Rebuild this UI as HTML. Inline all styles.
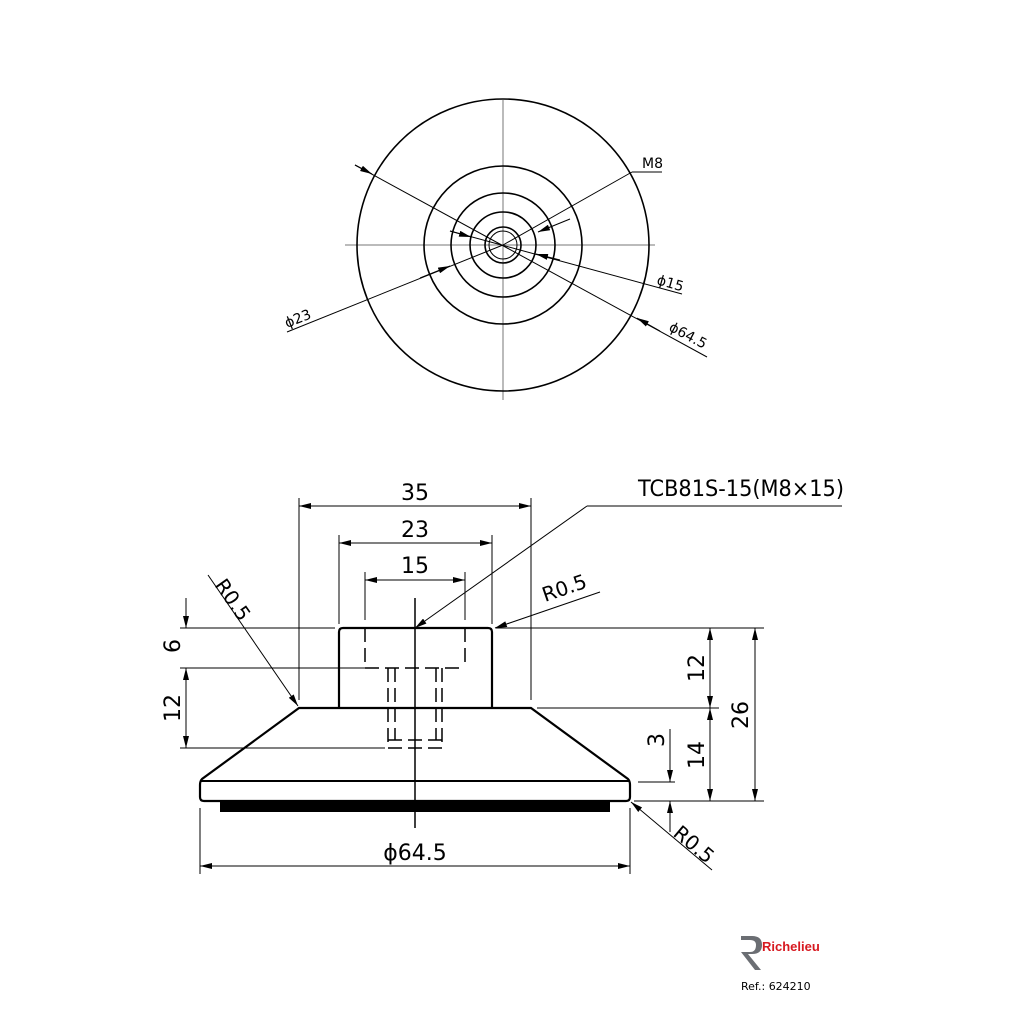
<!DOCTYPE html>
<html><head><meta charset="utf-8"><style>
html,body{margin:0;padding:0;background:#fff;}
svg{display:block;}
text{font-family:"DejaVu Sans","Liberation Sans",sans-serif;fill:#000;font-weight:normal;}
</style></head><body>
<svg width="1024" height="1024" viewBox="0 0 1024 1024" xmlns="http://www.w3.org/2000/svg">
<defs>
<marker id="a" viewBox="0 0 12 6" refX="12" refY="3" markerWidth="12" markerHeight="6" orient="auto-start-reverse" markerUnits="userSpaceOnUse"><path d="M0,0 L12,3 L0,6 z" fill="#000"/></marker>
</defs>
<g fill="none" stroke="#000">
<line x1="345" y1="245" x2="655" y2="245" stroke="#777" stroke-width="1"/>
<line x1="503" y1="100" x2="503" y2="400" stroke="#777" stroke-width="1"/>
<circle cx="503" cy="245" r="146" stroke-width="1.6"/>
<circle cx="503" cy="245" r="79" stroke-width="1.6"/>
<circle cx="503" cy="245" r="52" stroke-width="1.6"/>
<circle cx="503" cy="245" r="33" stroke-width="1.6"/>
<circle cx="503" cy="245" r="18" stroke-width="1.6"/>
<circle cx="503" cy="245" r="14" stroke-width="1"/>
<line x1="355" y1="165" x2="707" y2="357" stroke-width="1"/>
<line x1="355" y1="165" x2="372" y2="174" marker-end="url(#a)" stroke-width="1"/>
<line x1="660" y1="331" x2="637" y2="318" marker-end="url(#a)" stroke-width="1"/>
<line x1="287" y1="332" x2="503" y2="245" stroke-width="1"/>
<line x1="420" y1="278" x2="450" y2="266" marker-end="url(#a)" stroke-width="1"/>
<line x1="450" y1="231" x2="682" y2="294" stroke-width="1"/>
<line x1="450" y1="231" x2="471" y2="237" marker-end="url(#a)" stroke-width="1"/>
<line x1="560" y1="260" x2="536" y2="254" marker-end="url(#a)" stroke-width="1"/>
<line x1="632" y1="172" x2="503" y2="245" stroke-width="1"/>
<line x1="662" y1="172" x2="632" y2="172" stroke-width="1"/>
<line x1="570" y1="219" x2="538" y2="232" marker-end="url(#a)" stroke-width="1"/>

<path d="M339,708 V632 Q339,628 343,628 H488 Q492,628 492,632 V708" stroke-width="2.2"/>
<path d="M299,708 H531 L628,779 Q630,781 630,785 V797 Q630,801 626,801 H204 Q200,801 200,797 V785 Q200,781 202,779 L299,708 Z" stroke-width="2.2"/>
<line x1="200" y1="781" x2="630" y2="781" stroke-width="2"/>
<rect x="220" y="802" width="390" height="10" fill="#000" stroke="none"/>
<line x1="415" y1="598" x2="415" y2="828" stroke-width="1.5"/>
<g stroke-dasharray="14,6" stroke-width="1.5">
<line x1="365" y1="628" x2="365" y2="668"/>
<line x1="465" y1="628" x2="465" y2="668"/>
<line x1="365" y1="668" x2="465" y2="668"/>
<path d="M388,668 V748 H442 V668"/>
<path d="M395,668 V740 M436,668 V740 M388,740 H442"/>
</g>
<g stroke-width="1">
<line x1="299" y1="498" x2="299" y2="700"/>
<line x1="531" y1="498" x2="531" y2="700"/>
<line x1="415" y1="506" x2="299" y2="506" marker-end="url(#a)"/>
<line x1="415" y1="506" x2="531" y2="506" marker-end="url(#a)"/>
<line x1="339" y1="535" x2="339" y2="624"/>
<line x1="492" y1="535" x2="492" y2="624"/>
<line x1="415" y1="543" x2="339" y2="543" marker-end="url(#a)"/>
<line x1="415" y1="543" x2="492" y2="543" marker-end="url(#a)"/>
<line x1="365" y1="572" x2="365" y2="620"/>
<line x1="465" y1="572" x2="465" y2="620"/>
<line x1="415" y1="580" x2="365" y2="580" marker-end="url(#a)"/>
<line x1="415" y1="580" x2="465" y2="580" marker-end="url(#a)"/>
<line x1="842" y1="506" x2="587" y2="506"/>
<line x1="587" y1="506" x2="415" y2="628" marker-end="url(#a)"/>
<line x1="208" y1="575" x2="298" y2="706" marker-end="url(#a)"/>
<line x1="600" y1="592" x2="495" y2="628" marker-end="url(#a)"/>
<line x1="712" y1="870" x2="631" y2="802" marker-end="url(#a)"/>
<line x1="180" y1="628" x2="335" y2="628"/>
<line x1="180" y1="668" x2="365" y2="668"/>
<line x1="180" y1="748" x2="385" y2="748"/>
<line x1="186" y1="598" x2="186" y2="628" marker-end="url(#a)"/>
<line x1="186" y1="708" x2="186" y2="668" marker-end="url(#a)"/>
<line x1="186" y1="708" x2="186" y2="748" marker-end="url(#a)"/>
<line x1="496" y1="628" x2="764" y2="628"/>
<line x1="537" y1="708" x2="719" y2="708"/>
<line x1="634" y1="801" x2="764" y2="801"/>
<line x1="638" y1="782" x2="675" y2="782"/>
<line x1="710" y1="668" x2="710" y2="628" marker-end="url(#a)"/>
<line x1="710" y1="668" x2="710" y2="708" marker-end="url(#a)"/>
<line x1="710" y1="755" x2="710" y2="708" marker-end="url(#a)"/>
<line x1="710" y1="755" x2="710" y2="801" marker-end="url(#a)"/>
<line x1="755" y1="715" x2="755" y2="628" marker-end="url(#a)"/>
<line x1="755" y1="715" x2="755" y2="801" marker-end="url(#a)"/>
<line x1="670" y1="729" x2="670" y2="782" marker-end="url(#a)"/>
<line x1="670" y1="832" x2="670" y2="801" marker-end="url(#a)"/>
<line x1="200" y1="808" x2="200" y2="874"/>
<line x1="630" y1="808" x2="630" y2="874"/>
<line x1="415" y1="866" x2="200" y2="866" marker-end="url(#a)"/>
<line x1="415" y1="866" x2="630" y2="866" marker-end="url(#a)"/>
</g>
</g>
<g font-size="19">
<text x="415" y="500" text-anchor="middle" font-size="22">35</text>
<text x="415" y="537" text-anchor="middle" font-size="22">23</text>
<text x="415" y="573" text-anchor="middle" font-size="22">15</text>
<text x="638" y="496" font-size="22" textLength="206" lengthAdjust="spacingAndGlyphs">TCB81S-15(M8×15)</text>
<text x="415" y="860" text-anchor="middle" font-size="22">ϕ64.5</text>
<text transform="translate(180,646) rotate(-90)" text-anchor="middle" font-size="22">6</text>
<text transform="translate(180,708) rotate(-90)" text-anchor="middle" font-size="22">12</text>
<text transform="translate(704,668) rotate(-90)" text-anchor="middle" font-size="22">12</text>
<text transform="translate(704,755) rotate(-90)" text-anchor="middle" font-size="22">14</text>
<text transform="translate(748,715) rotate(-90)" text-anchor="middle" font-size="22">26</text>
<text transform="translate(664,740) rotate(-90)" text-anchor="middle" font-size="22">3</text>
<text transform="translate(214,585) rotate(55)" font-size="20">R0.5</text>
<text transform="translate(545,602) rotate(-19)" font-size="20">R0.5</text>
<text transform="translate(672,835) rotate(40)" font-size="20">R0.5</text>
<text x="642" y="168" font-size="14">M8</text>
<text transform="translate(287,328) rotate(-22)" font-size="14">ϕ23</text>
<text transform="translate(656,284) rotate(16)" font-size="14">ϕ15</text>
<text transform="translate(668,330) rotate(28)" font-size="14">ϕ64.5</text>
</g>
<path d="M741,936 H752 Q762,936 762,945 Q762,954 752,954 H748 L761,970 H755 L741,952 H750 Q756,952 756,945 Q756,940 750,940 H741 Z" fill="#6b6e73"/>
<text x="762" y="951" font-size="13" style="fill:#d71920;font-family:'Liberation Sans',sans-serif;font-weight:bold">Richelieu</text>
<text x="741" y="990" font-size="11" style="font-family:'DejaVu Sans',sans-serif">Ref.: 624210</text>
</svg>
</body></html>
